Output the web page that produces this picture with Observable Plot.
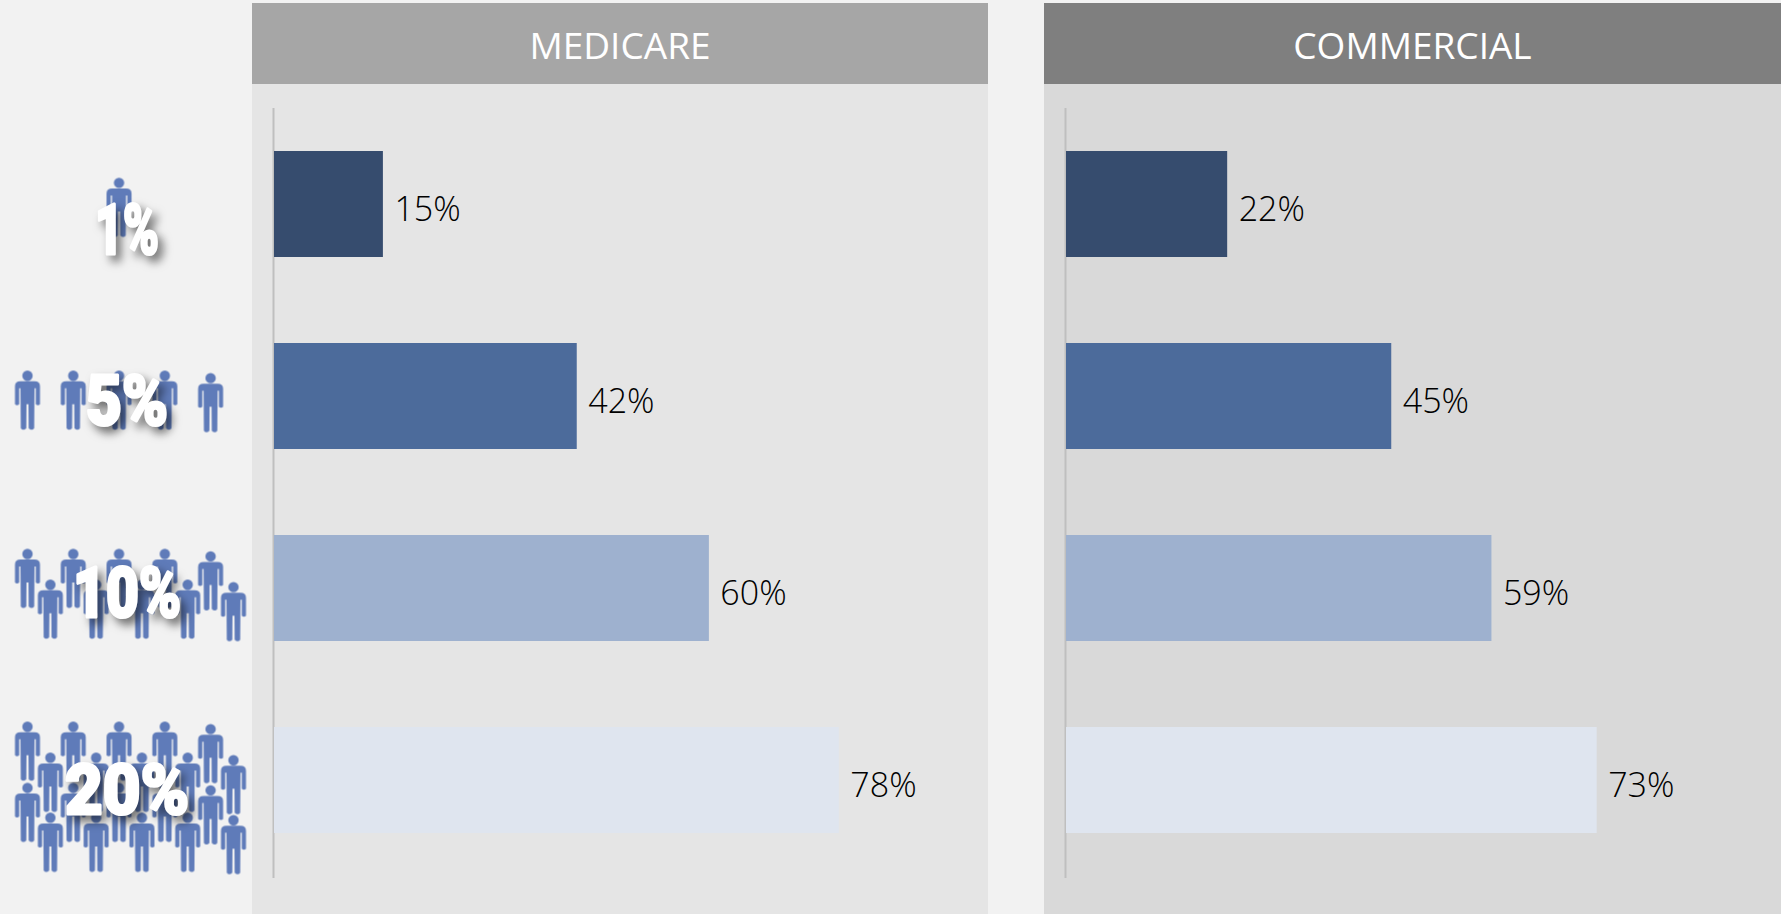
<!DOCTYPE html>
<html><head><meta charset="utf-8">
<script src="https://cdn.jsdelivr.net/npm/d3@7"></script>
<script src="https://cdn.jsdelivr.net/npm/@observablehq/plot@0.6"></script>
<style>
html,body{margin:0;padding:0;background:#f2f2f2;overflow:hidden}
#page{position:relative;width:1781px;height:914px;overflow:hidden;background:#f2f2f2}
.box{position:absolute}
.box svg{display:block}
.head{position:absolute;top:3px;height:81px;text-align:center;color:#fff;font:400 37px/83px "Open Sans",sans-serif}
</style></head><body><div id="page"></div>
<script>
const groups = ["1%", "5%", "10%", "20%"];
const medicare = [15, 41.7, 59.9, 77.8];
const commercial = [22.2, 44.8, 58.6, 73.1];
const barColors = ["#364c6e", "#4c6b9b", "#9eb1cf", "#dfe5ef"];
const labelRows = [7.58, 13.2, 19.5, 25.96];
const labelWidths = [64, 82, 108, 124];
const labelColumn = 4.35;
// pictogram: half-column and row position of each figure, per group
const peopleGroup = [0, 1,1,1,1,1,
  2,2,2,2,2,2,2,2,2,2,
  3,3,3,3,3,3,3,3,3,3,3,3,3,3,3,3,3,3,3,3];
const peopleCol = [4, 0,2,4,6,8,
  0,2,4,6,8,1,3,5,7,9,
  0,2,4,6,8,1,3,5,7,9,0,2,4,6,8,1,3,5,7,9];
const peopleRow = [6.81, 13.14,13.14,13.14,13.14,13.22,
  18.99,18.99,18.99,18.99,19.07,20,20,20,20,20.08,
  24.66,24.66,24.66,24.66,24.74,25.68,25.68,25.68,25.68,25.76,
  26.67,26.67,26.67,26.67,26.75,27.65,27.65,27.65,27.65,27.73];

const personSymbol = {
  draw(c, size) {
    const u = Math.sqrt(size) / 59; // figure is 59 units tall, centred on origin
    const X = v => v * u, Y = v => (v - 29.5) * u;
    c.moveTo(X(5.2), Y(4.4));
    c.arc(X(0), Y(4.4), 5.2 * u, 0, 2 * Math.PI);
    c.closePath();
    c.moveTo(X(-7), Y(10));
    c.lineTo(X(7), Y(10));
    c.quadraticCurveTo(X(12.5), Y(10), X(12.5), Y(15));
    c.lineTo(X(12.5), Y(33));
    c.quadraticCurveTo(X(10.5), Y(35), X(8.3), Y(33));
    c.lineTo(X(8.3), Y(17));
    c.lineTo(X(7), Y(17));
    c.lineTo(X(6.7), Y(57));
    c.quadraticCurveTo(X(4.3), Y(60), X(1.2), Y(57));
    c.lineTo(X(1), Y(33));
    c.lineTo(X(-1), Y(33));
    c.lineTo(X(-1.2), Y(57));
    c.quadraticCurveTo(X(-4.3), Y(60), X(-6.7), Y(57));
    c.lineTo(X(-7), Y(17));
    c.lineTo(X(-8.3), Y(17));
    c.lineTo(X(-8.3), Y(33));
    c.quadraticCurveTo(X(-10.5), Y(35), X(-12.5), Y(33));
    c.lineTo(X(-12.5), Y(15));
    c.quadraticCurveTo(X(-12.5), Y(10), X(-7), Y(10));
    c.closePath();
  }
};

const people = peopleGroup.map((g, i) => ({group: groups[g], col: peopleCol[i], row: peopleRow[i]}));
const page = document.getElementById("page");

function place(node, left, top) {
  const d = document.createElement("div");
  d.className = "box";
  d.style.left = left + "px";
  d.style.top = top + "px";
  d.appendChild(node);
  page.appendChild(d);
}

const left = Plot.plot({
  width: 252, height: 914, margin: 0,
  style: {background: "transparent", overflow: "visible"},
  x: {domain: [0, 9], range: [27, 233], axis: null},
  y: {domain: [0, 30], range: [0, 914], axis: null},
  marks: [
    Plot.dot(people, {x: "col", y: "row", symbol: personSymbol, r: 33.3, fill: "#5f7bb9", stroke: "none", imageFilter: "blur(0.4px)"}),
    Plot.text(groups, {
      x: () => labelColumn, y: (d, i) => labelRows[i], text: d => d,
      fontFamily: "Roboto, sans-serif", fontWeight: 900, fontSize: 71,
      fill: "#fff", stroke: "#fff", strokeWidth: 3, strokeLinejoin: "round",
      lineAnchor: "middle",
      imageFilter: "drop-shadow(5px 6px 5px rgba(0,0,0,.55))"
    })
  ]
});
d3.select(left).selectAll("text").filter(function () { return groups.includes(this.textContent); })
  .attr("textLength", function () { return labelWidths[groups.indexOf(this.textContent)]; })
  .attr("lengthAdjust", "spacingAndGlyphs");
place(left, 0, 0);

function panel(values, bg, panelLeft, panelWidth) {
  const rows = groups.map((g, i) => ({group: g, value: values[i]}));
  return place(Plot.plot({
    width: panelWidth, height: 830,
    marginLeft: 22, marginRight: panelWidth - 22 - 653.4, marginTop: 24, marginBottom: 38,
    style: {background: bg, overflow: "visible"},
    x: {domain: [0, 90], axis: null},
    y: {domain: groups, paddingInner: 0.448, paddingOuter: 0.224, axis: null},
    color: {domain: groups, range: barColors},
    marks: [
      Plot.ruleX([0], {stroke: "#bfbfbf", strokeWidth: 2, dx: -1, insetBottom: -2}),
      Plot.barX(rows, {x: "value", y: "group", fill: "group"}),
      Plot.text(rows, {
        x: "value", y: "group", text: d => Math.round(d.value) + "%", textAnchor: "start",
        dx: 11, dy: 6, fontFamily: "'Open Sans', sans-serif", fontWeight: 300, fontSize: 34, fill: "#000"
      })
    ]
  }), panelLeft, 84);
}
panel(medicare, "#e5e5e5", 252, 736);
panel(commercial, "#d9d9d9", 1044, 737);

[["MEDICARE", 252, 736, "#a6a6a6"], ["COMMERCIAL", 1044, 737, "#7f7f7f"]].forEach(([t, l, w, c]) => {
  const h = document.createElement("div");
  h.className = "head";
  h.textContent = t;
  h.style.left = l + "px";
  h.style.width = w + "px";
  h.style.background = c;
  page.appendChild(h);
});
</script></body></html>
